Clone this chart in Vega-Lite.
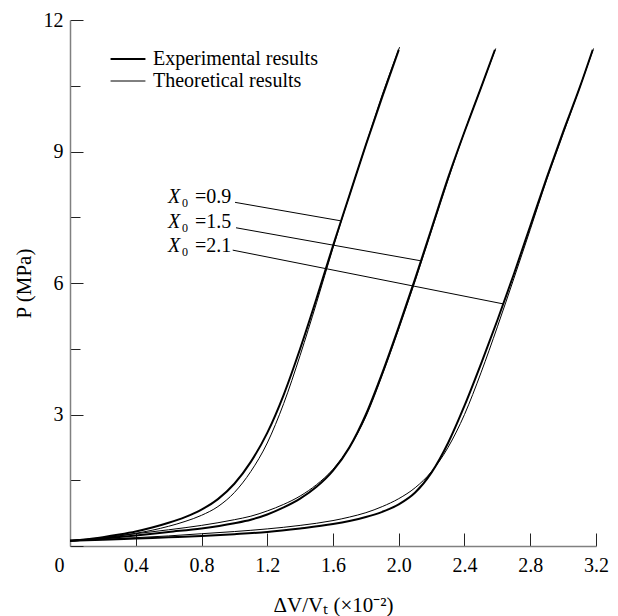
{
  "$schema": "https://vega.github.io/schema/vega-lite/v6.json",
  "width": 526,
  "height": 526,
  "autosize": {"type": "none"},
  "padding": {"left": 70, "top": 20, "right": 22, "bottom": 70},
  "background": "white",
  "config": {
    "view": {"stroke": null},
    "font": "Liberation Serif, Times New Roman, serif",
    "axis": {
      "grid": false,
      "domainColor": "#808080",
      "domainWidth": 1.5,
      "tickColor": "#222222",
      "tickWidth": 1,
      "labelFont": "Liberation Serif, Times New Roman, serif",
      "labelFontSize": 20,
      "labelColor": "black",
      "labelFlush": false,
      "labelOverlap": false,
      "titleFont": "Liberation Serif, Times New Roman, serif",
      "titleFontSize": 21,
      "titleFontWeight": "normal",
      "titleColor": "black"
    }
  },
  "datasets": {
    "curves": [
      {"curve": "0.9", "kind": "Experimental results", "dv": 0.0, "p": 0.12},
      {"curve": "0.9", "kind": "Experimental results", "dv": 0.1, "p": 0.15},
      {"curve": "0.9", "kind": "Experimental results", "dv": 0.2, "p": 0.2},
      {"curve": "0.9", "kind": "Experimental results", "dv": 0.3, "p": 0.26},
      {"curve": "0.9", "kind": "Experimental results", "dv": 0.4, "p": 0.33},
      {"curve": "0.9", "kind": "Experimental results", "dv": 0.5, "p": 0.42},
      {"curve": "0.9", "kind": "Experimental results", "dv": 0.6, "p": 0.53},
      {"curve": "0.9", "kind": "Experimental results", "dv": 0.7, "p": 0.66},
      {"curve": "0.9", "kind": "Experimental results", "dv": 0.8, "p": 0.83},
      {"curve": "0.9", "kind": "Experimental results", "dv": 0.9, "p": 1.07},
      {"curve": "0.9", "kind": "Experimental results", "dv": 1.0, "p": 1.42},
      {"curve": "0.9", "kind": "Experimental results", "dv": 1.1, "p": 1.92},
      {"curve": "0.9", "kind": "Experimental results", "dv": 1.2, "p": 2.58},
      {"curve": "0.9", "kind": "Experimental results", "dv": 1.3, "p": 3.45},
      {"curve": "0.9", "kind": "Experimental results", "dv": 1.4, "p": 4.5},
      {"curve": "0.9", "kind": "Experimental results", "dv": 1.5, "p": 5.65},
      {"curve": "0.9", "kind": "Experimental results", "dv": 1.6, "p": 6.85},
      {"curve": "0.9", "kind": "Experimental results", "dv": 1.7, "p": 8.0},
      {"curve": "0.9", "kind": "Experimental results", "dv": 1.8, "p": 9.15},
      {"curve": "0.9", "kind": "Experimental results", "dv": 1.9, "p": 10.25},
      {"curve": "0.9", "kind": "Experimental results", "dv": 2.0, "p": 11.32},

      {"curve": "0.9", "kind": "Theoretical results", "dv": 0.0, "p": 0.12},
      {"curve": "0.9", "kind": "Theoretical results", "dv": 0.1, "p": 0.14},
      {"curve": "0.9", "kind": "Theoretical results", "dv": 0.2, "p": 0.18},
      {"curve": "0.9", "kind": "Theoretical results", "dv": 0.3, "p": 0.23},
      {"curve": "0.9", "kind": "Theoretical results", "dv": 0.4, "p": 0.29},
      {"curve": "0.9", "kind": "Theoretical results", "dv": 0.5, "p": 0.36},
      {"curve": "0.9", "kind": "Theoretical results", "dv": 0.6, "p": 0.45},
      {"curve": "0.9", "kind": "Theoretical results", "dv": 0.7, "p": 0.56},
      {"curve": "0.9", "kind": "Theoretical results", "dv": 0.8, "p": 0.7},
      {"curve": "0.9", "kind": "Theoretical results", "dv": 0.9, "p": 0.9},
      {"curve": "0.9", "kind": "Theoretical results", "dv": 1.0, "p": 1.22},
      {"curve": "0.9", "kind": "Theoretical results", "dv": 1.1, "p": 1.7},
      {"curve": "0.9", "kind": "Theoretical results", "dv": 1.2, "p": 2.35},
      {"curve": "0.9", "kind": "Theoretical results", "dv": 1.3, "p": 3.25},
      {"curve": "0.9", "kind": "Theoretical results", "dv": 1.4, "p": 4.35},
      {"curve": "0.9", "kind": "Theoretical results", "dv": 1.5, "p": 5.55},
      {"curve": "0.9", "kind": "Theoretical results", "dv": 1.6, "p": 6.8},
      {"curve": "0.9", "kind": "Theoretical results", "dv": 1.7, "p": 8.0},
      {"curve": "0.9", "kind": "Theoretical results", "dv": 1.8, "p": 9.15},
      {"curve": "0.9", "kind": "Theoretical results", "dv": 1.9, "p": 10.3},
      {"curve": "0.9", "kind": "Theoretical results", "dv": 2.005, "p": 11.38},

      {"curve": "1.5", "kind": "Experimental results", "dv": 0.0, "p": 0.12},
      {"curve": "1.5", "kind": "Experimental results", "dv": 0.2, "p": 0.17},
      {"curve": "1.5", "kind": "Experimental results", "dv": 0.4, "p": 0.24},
      {"curve": "1.5", "kind": "Experimental results", "dv": 0.6, "p": 0.32},
      {"curve": "1.5", "kind": "Experimental results", "dv": 0.8, "p": 0.4},
      {"curve": "1.5", "kind": "Experimental results", "dv": 1.0, "p": 0.52},
      {"curve": "1.5", "kind": "Experimental results", "dv": 1.1, "p": 0.6},
      {"curve": "1.5", "kind": "Experimental results", "dv": 1.2, "p": 0.72},
      {"curve": "1.5", "kind": "Experimental results", "dv": 1.3, "p": 0.88},
      {"curve": "1.5", "kind": "Experimental results", "dv": 1.4, "p": 1.08},
      {"curve": "1.5", "kind": "Experimental results", "dv": 1.5, "p": 1.35},
      {"curve": "1.5", "kind": "Experimental results", "dv": 1.6, "p": 1.72},
      {"curve": "1.5", "kind": "Experimental results", "dv": 1.7, "p": 2.25},
      {"curve": "1.5", "kind": "Experimental results", "dv": 1.8, "p": 3.0},
      {"curve": "1.5", "kind": "Experimental results", "dv": 1.9, "p": 3.95},
      {"curve": "1.5", "kind": "Experimental results", "dv": 2.0, "p": 5.0},
      {"curve": "1.5", "kind": "Experimental results", "dv": 2.1, "p": 6.1},
      {"curve": "1.5", "kind": "Experimental results", "dv": 2.2, "p": 7.25},
      {"curve": "1.5", "kind": "Experimental results", "dv": 2.3, "p": 8.4},
      {"curve": "1.5", "kind": "Experimental results", "dv": 2.4, "p": 9.45},
      {"curve": "1.5", "kind": "Experimental results", "dv": 2.5, "p": 10.45},
      {"curve": "1.5", "kind": "Experimental results", "dv": 2.585, "p": 11.32},

      {"curve": "1.5", "kind": "Theoretical results", "dv": 0.0, "p": 0.12},
      {"curve": "1.5", "kind": "Theoretical results", "dv": 0.2, "p": 0.19},
      {"curve": "1.5", "kind": "Theoretical results", "dv": 0.4, "p": 0.28},
      {"curve": "1.5", "kind": "Theoretical results", "dv": 0.6, "p": 0.37},
      {"curve": "1.5", "kind": "Theoretical results", "dv": 0.8, "p": 0.47},
      {"curve": "1.5", "kind": "Theoretical results", "dv": 1.0, "p": 0.6},
      {"curve": "1.5", "kind": "Theoretical results", "dv": 1.1, "p": 0.68},
      {"curve": "1.5", "kind": "Theoretical results", "dv": 1.2, "p": 0.8},
      {"curve": "1.5", "kind": "Theoretical results", "dv": 1.3, "p": 0.95},
      {"curve": "1.5", "kind": "Theoretical results", "dv": 1.4, "p": 1.14},
      {"curve": "1.5", "kind": "Theoretical results", "dv": 1.5, "p": 1.4},
      {"curve": "1.5", "kind": "Theoretical results", "dv": 1.6, "p": 1.75},
      {"curve": "1.5", "kind": "Theoretical results", "dv": 1.7, "p": 2.25},
      {"curve": "1.5", "kind": "Theoretical results", "dv": 1.8, "p": 2.95},
      {"curve": "1.5", "kind": "Theoretical results", "dv": 1.9, "p": 3.9},
      {"curve": "1.5", "kind": "Theoretical results", "dv": 2.0, "p": 4.95},
      {"curve": "1.5", "kind": "Theoretical results", "dv": 2.1, "p": 6.05},
      {"curve": "1.5", "kind": "Theoretical results", "dv": 2.2, "p": 7.2},
      {"curve": "1.5", "kind": "Theoretical results", "dv": 2.3, "p": 8.35},
      {"curve": "1.5", "kind": "Theoretical results", "dv": 2.4, "p": 9.45},
      {"curve": "1.5", "kind": "Theoretical results", "dv": 2.5, "p": 10.45},
      {"curve": "1.5", "kind": "Theoretical results", "dv": 2.59, "p": 11.35},

      {"curve": "2.1", "kind": "Experimental results", "dv": 0.0, "p": 0.12},
      {"curve": "2.1", "kind": "Experimental results", "dv": 0.2, "p": 0.14},
      {"curve": "2.1", "kind": "Experimental results", "dv": 0.4, "p": 0.17},
      {"curve": "2.1", "kind": "Experimental results", "dv": 0.6, "p": 0.2},
      {"curve": "2.1", "kind": "Experimental results", "dv": 0.8, "p": 0.23},
      {"curve": "2.1", "kind": "Experimental results", "dv": 1.0, "p": 0.27},
      {"curve": "2.1", "kind": "Experimental results", "dv": 1.2, "p": 0.32},
      {"curve": "2.1", "kind": "Experimental results", "dv": 1.4, "p": 0.4},
      {"curve": "2.1", "kind": "Experimental results", "dv": 1.6, "p": 0.5},
      {"curve": "2.1", "kind": "Experimental results", "dv": 1.7, "p": 0.57},
      {"curve": "2.1", "kind": "Experimental results", "dv": 1.8, "p": 0.66},
      {"curve": "2.1", "kind": "Experimental results", "dv": 1.9, "p": 0.78},
      {"curve": "2.1", "kind": "Experimental results", "dv": 2.0, "p": 0.95},
      {"curve": "2.1", "kind": "Experimental results", "dv": 2.1, "p": 1.22},
      {"curve": "2.1", "kind": "Experimental results", "dv": 2.2, "p": 1.68},
      {"curve": "2.1", "kind": "Experimental results", "dv": 2.3, "p": 2.35},
      {"curve": "2.1", "kind": "Experimental results", "dv": 2.4, "p": 3.2},
      {"curve": "2.1", "kind": "Experimental results", "dv": 2.5, "p": 4.15},
      {"curve": "2.1", "kind": "Experimental results", "dv": 2.6, "p": 5.15},
      {"curve": "2.1", "kind": "Experimental results", "dv": 2.7, "p": 6.2},
      {"curve": "2.1", "kind": "Experimental results", "dv": 2.8, "p": 7.3},
      {"curve": "2.1", "kind": "Experimental results", "dv": 2.9, "p": 8.4},
      {"curve": "2.1", "kind": "Experimental results", "dv": 3.0, "p": 9.45},
      {"curve": "2.1", "kind": "Experimental results", "dv": 3.1, "p": 10.45},
      {"curve": "2.1", "kind": "Experimental results", "dv": 3.18, "p": 11.32},

      {"curve": "2.1", "kind": "Theoretical results", "dv": 0.0, "p": 0.12},
      {"curve": "2.1", "kind": "Theoretical results", "dv": 0.2, "p": 0.15},
      {"curve": "2.1", "kind": "Theoretical results", "dv": 0.4, "p": 0.19},
      {"curve": "2.1", "kind": "Theoretical results", "dv": 0.6, "p": 0.23},
      {"curve": "2.1", "kind": "Theoretical results", "dv": 0.8, "p": 0.28},
      {"curve": "2.1", "kind": "Theoretical results", "dv": 1.0, "p": 0.33},
      {"curve": "2.1", "kind": "Theoretical results", "dv": 1.2, "p": 0.39},
      {"curve": "2.1", "kind": "Theoretical results", "dv": 1.4, "p": 0.47},
      {"curve": "2.1", "kind": "Theoretical results", "dv": 1.6, "p": 0.58},
      {"curve": "2.1", "kind": "Theoretical results", "dv": 1.7, "p": 0.66},
      {"curve": "2.1", "kind": "Theoretical results", "dv": 1.8, "p": 0.76},
      {"curve": "2.1", "kind": "Theoretical results", "dv": 1.9, "p": 0.9},
      {"curve": "2.1", "kind": "Theoretical results", "dv": 2.0, "p": 1.08},
      {"curve": "2.1", "kind": "Theoretical results", "dv": 2.1, "p": 1.33},
      {"curve": "2.1", "kind": "Theoretical results", "dv": 2.2, "p": 1.7},
      {"curve": "2.1", "kind": "Theoretical results", "dv": 2.3, "p": 2.25},
      {"curve": "2.1", "kind": "Theoretical results", "dv": 2.4, "p": 3.0},
      {"curve": "2.1", "kind": "Theoretical results", "dv": 2.5, "p": 3.95},
      {"curve": "2.1", "kind": "Theoretical results", "dv": 2.6, "p": 5.0},
      {"curve": "2.1", "kind": "Theoretical results", "dv": 2.7, "p": 6.1},
      {"curve": "2.1", "kind": "Theoretical results", "dv": 2.8, "p": 7.22},
      {"curve": "2.1", "kind": "Theoretical results", "dv": 2.9, "p": 8.35},
      {"curve": "2.1", "kind": "Theoretical results", "dv": 3.0, "p": 9.4},
      {"curve": "2.1", "kind": "Theoretical results", "dv": 3.1, "p": 10.45},
      {"curve": "2.1", "kind": "Theoretical results", "dv": 3.185, "p": 11.35}
    ],
    "callouts": [
      {"curve": "0.9", "text": "=0.9", "tx": 0.596, "ty": 7.83, "x1": 1.004, "y1": 7.84, "x2": 1.645, "y2": 7.42},
      {"curve": "1.5", "text": "=1.5", "tx": 0.596, "ty": 7.26, "x1": 1.01, "y1": 7.26, "x2": 2.129, "y2": 6.51},
      {"curve": "2.1", "text": "=2.1", "tx": 0.596, "ty": 6.71, "x1": 0.99, "y1": 6.75, "x2": 2.64, "y2": 5.52}
    ]
  },
  "layer": [
    {
      "data": {"name": "curves"},
      "mark": {"type": "line", "color": "black", "interpolate": "monotone"},
      "encoding": {
        "x": {
          "field": "dv",
          "type": "quantitative",
          "scale": {"domain": [0, 3.2], "nice": false, "zero": false},
          "axis": {
            "title": "ΔV/Vₜ (×10⁻²)",
            "titlePadding": 19,
            "values": [0, 0.2, 0.4, 0.6, 0.8, 1.0, 1.2, 1.4, 1.6, 1.8, 2.0, 2.2, 2.4, 2.6, 2.8, 3.0, 3.2],
            "labelExpr": "datum.value == 0 ? '0' : (round(datum.value * 10) % 4 == 0 ? format(datum.value, '.1f') : '')",
            "tickSize": {"condition": {"test": "round(datum.value * 10) % 4 == 0", "value": -13}, "value": -10},
            "labelPadding": 22,
            "labelOffset": {"condition": {"test": "datum.value == 0", "value": -11}, "value": 0}
          }
        },
        "y": {
          "field": "p",
          "type": "quantitative",
          "scale": {"domain": [0, 12], "nice": false, "zero": false},
          "axis": {
            "title": "P (MPa)",
            "titlePadding": 9,
            "values": [0, 1.5, 3, 4.5, 6, 7.5, 9, 10.5, 12],
            "labelExpr": "datum.value > 0 && datum.value % 3 == 0 ? format(datum.value, 'd') : ''",
            "tickSize": {"condition": {"test": "datum.value % 3 == 0", "value": -13}, "value": -10},
            "labelPadding": 20
          }
        },
        "detail": {"field": "curve"},
        "order": {"field": "dv", "type": "quantitative"},
        "strokeWidth": {
          "field": "kind",
          "type": "nominal",
          "scale": {"domain": ["Experimental results", "Theoretical results"], "range": [2, 1]},
          "legend": {
            "title": null,
            "orient": "none",
            "legendX": 48,
            "legendY": 29,
            "padding": 0,
            "symbolType": "M-4,0H4",
            "symbolSize": 76,
            "symbolStrokeColor": "black",
            "symbolFillColor": "transparent",
            "labelFont": "Liberation Serif, Times New Roman, serif",
            "labelFontSize": 20,
            "labelColor": "black",
            "labelOffset": 15,
            "rowPadding": 2,
            "labelLimit": 300
          }
        }
      }
    },
    {
      "data": {"name": "callouts"},
      "mark": {"type": "rule", "color": "black", "strokeWidth": 1},
      "encoding": {
        "x": {"field": "x1", "type": "quantitative"},
        "y": {"field": "y1", "type": "quantitative"},
        "x2": {"field": "x2"},
        "y2": {"field": "y2"}
      }
    },
    {
      "data": {"name": "callouts"},
      "mark": {"type": "text", "font": "Liberation Serif, Times New Roman, serif", "fontSize": 20, "fontStyle": "italic", "align": "left", "baseline": "alphabetic", "color": "black"},
      "encoding": {
        "x": {"field": "tx", "type": "quantitative"},
        "y": {"field": "ty", "type": "quantitative"},
        "text": {"value": "X"}
      }
    },
    {
      "data": {"name": "callouts"},
      "mark": {"type": "text", "font": "Liberation Serif, Times New Roman, serif", "fontSize": 12, "align": "left", "baseline": "alphabetic", "dx": 14, "dy": 4, "color": "black"},
      "encoding": {
        "x": {"field": "tx", "type": "quantitative"},
        "y": {"field": "ty", "type": "quantitative"},
        "text": {"value": "0"}
      }
    },
    {
      "data": {"name": "callouts"},
      "mark": {"type": "text", "font": "Liberation Serif, Times New Roman, serif", "fontSize": 20, "align": "left", "baseline": "alphabetic", "dx": 27, "color": "black"},
      "encoding": {
        "x": {"field": "tx", "type": "quantitative"},
        "y": {"field": "ty", "type": "quantitative"},
        "text": {"field": "text"}
      }
    }
  ]
}
